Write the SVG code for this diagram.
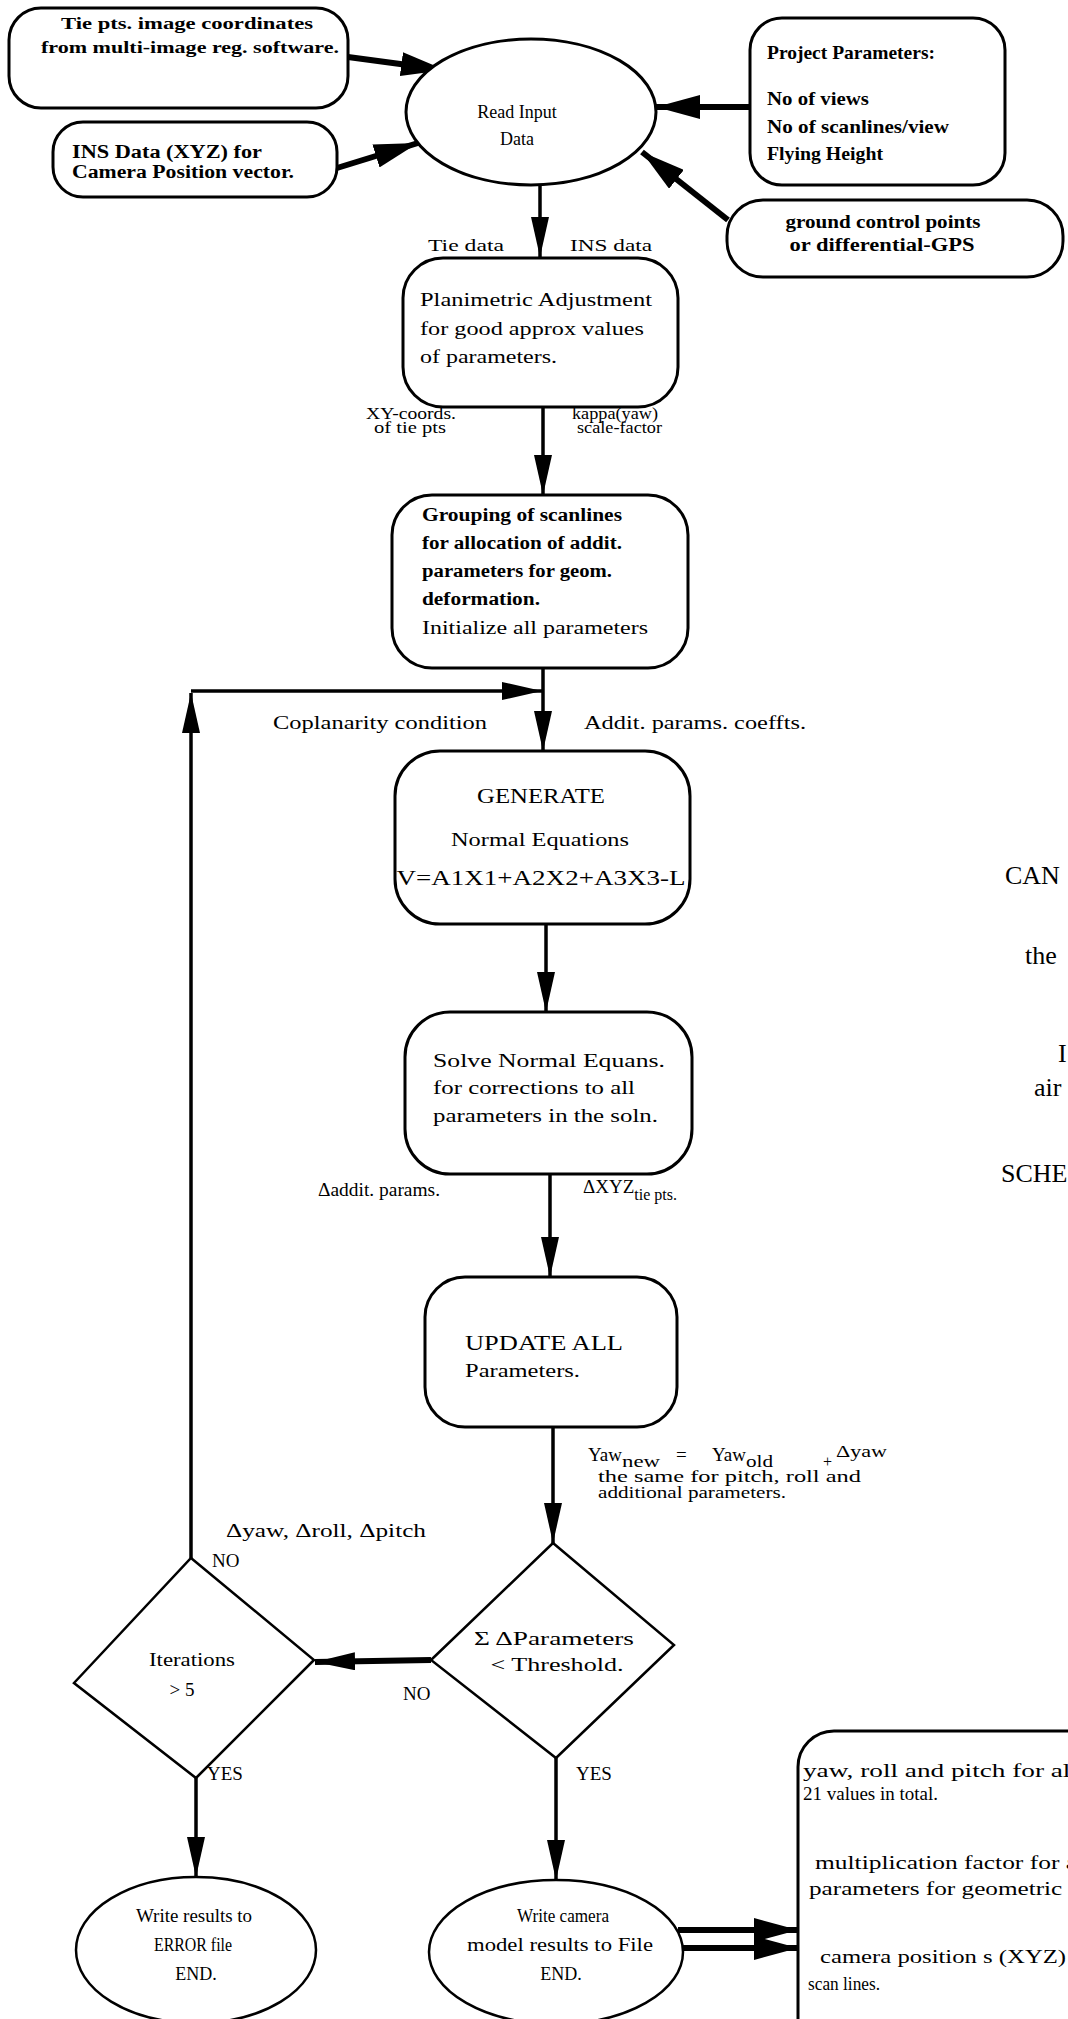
<svg xmlns="http://www.w3.org/2000/svg" width="1068" height="2019" viewBox="0 0 1068 2019">
  <defs>
    <style>
      .box { fill: #fff; stroke: #000; stroke-width: 3; }
      .dia { fill: #fff; stroke: #000; stroke-width: 2.5; }
      .t { font-family: "Liberation Serif", "Times New Roman", serif; font-size: 18px; fill: #000; }
      .b { font-weight: bold; }
      .s { font-size: 16px; }
      .m { font-size: 17px; }
      .l { font-size: 19px; }
      .big { font-size: 26px; }
      .c { text-anchor: middle; }
      .ln { fill: none; stroke: #000; stroke-width: 3.5; }
      .thick { fill: none; stroke: #000; stroke-width: 6; }
    </style>
    <marker id="ah" viewBox="0 0 40 18" refX="40" refY="9" markerWidth="40" markerHeight="18" markerUnits="userSpaceOnUse" orient="auto">
      <path d="M0,0 L40,9 L0,18 z" fill="#000"/>
    </marker>
    <marker id="ahBig" viewBox="0 0 44 24" refX="44" refY="12" markerWidth="44" markerHeight="24" markerUnits="userSpaceOnUse" orient="auto">
      <path d="M0,0 L44,12 L0,24 z" fill="#000"/>
    </marker>
  </defs>

  <rect width="1068" height="2019" fill="#fff"/>

  <!-- connectors -->
  <g id="connectors">
    <line class="thick" x1="348" y1="57" x2="445" y2="70" marker-end="url(#ahBig)"/>
    <line class="thick" x1="337" y1="168" x2="418" y2="143" marker-end="url(#ahBig)"/>
    <line class="thick" x1="750" y1="107" x2="656" y2="107" marker-end="url(#ahBig)"/>
    <line class="thick" x1="728" y1="220" x2="642" y2="152" marker-end="url(#ahBig)"/>
    <line class="ln" x1="540" y1="184" x2="540" y2="257" marker-end="url(#ah)"/>
    <line class="ln" x1="543" y1="407" x2="543" y2="495" marker-end="url(#ah)"/>
    <line class="ln" x1="543" y1="668" x2="543" y2="751" marker-end="url(#ah)"/>
    <line class="ln" x1="191" y1="1558" x2="191" y2="693" marker-end="url(#ah)"/>
    <line class="ln" x1="191" y1="691" x2="542" y2="691" marker-end="url(#ah)"/>
    <line class="ln" x1="546" y1="924" x2="546" y2="1012" marker-end="url(#ah)"/>
    <line class="ln" x1="550" y1="1174" x2="550" y2="1277" marker-end="url(#ah)"/>
    <line class="ln" x1="553" y1="1427" x2="553" y2="1543" marker-end="url(#ah)"/>
    <line class="thick" x1="431" y1="1660" x2="315" y2="1662" marker-end="url(#ah)"/>
    <line class="ln" x1="196" y1="1778" x2="196" y2="1877" marker-end="url(#ah)"/>
    <line class="ln" x1="556" y1="1758" x2="556" y2="1880" marker-end="url(#ah)"/>
    <line class="thick" x1="678" y1="1930" x2="798" y2="1930" marker-end="url(#ahBig)"/>
    <line class="thick" x1="680" y1="1948" x2="798" y2="1948" marker-end="url(#ahBig)"/>
  </g>

  <!-- input sources -->
  <g id="tie-points">
    <rect class="box" x="9" y="8" width="339" height="100" rx="32"/>
    <text class="t b m c" x="187" y="29" textLength="252" lengthAdjust="spacingAndGlyphs">Tie pts. image coordinates</text>
    <text class="t b m c" x="190" y="53" textLength="298" lengthAdjust="spacingAndGlyphs">from multi-image reg. software.</text>
  </g>
  <g id="ins-data">
    <rect class="box" x="53" y="122" width="284" height="75" rx="30"/>
    <text class="t b" x="72" y="158" textLength="190" lengthAdjust="spacingAndGlyphs">INS Data (XYZ) for</text>
    <text class="t b" x="72" y="178" textLength="222" lengthAdjust="spacingAndGlyphs">Camera Position vector.</text>
  </g>
  <g id="read-input">
    <ellipse class="box" cx="531" cy="112" rx="125" ry="73"/>
    <text class="t c" x="517" y="118">Read Input</text>
    <text class="t c" x="517" y="145">Data</text>
  </g>
  <g id="project-parameters">
    <rect class="box" x="750" y="18" width="255" height="167" rx="32"/>
    <text class="t b l" x="767" y="59" textLength="168" lengthAdjust="spacingAndGlyphs">Project Parameters:</text>
    <text class="t b l" x="767" y="105" textLength="102" lengthAdjust="spacingAndGlyphs">No of views</text>
    <text class="t b l" x="767" y="133" textLength="182" lengthAdjust="spacingAndGlyphs">No of scanlines/view</text>
    <text class="t b l" x="767" y="160" textLength="116" lengthAdjust="spacingAndGlyphs">Flying Height</text>
  </g>
  <g id="ground-control">
    <rect class="box" x="727" y="200" width="336" height="77" rx="36"/>
    <text class="t b c" x="883" y="228" textLength="195" lengthAdjust="spacingAndGlyphs">ground control points</text>
    <text class="t b c" x="882" y="251" textLength="185" lengthAdjust="spacingAndGlyphs">or differential-GPS</text>
  </g>

  <!-- main processing chain -->
  <g id="planimetric">
    <text class="t m" x="428" y="251" textLength="76" lengthAdjust="spacingAndGlyphs">Tie data</text>
    <text class="t m" x="570" y="251" textLength="82" lengthAdjust="spacingAndGlyphs">INS data</text>
    <rect class="box" x="403" y="258" width="275" height="149" rx="40"/>
    <text class="t" x="420" y="306" textLength="232" lengthAdjust="spacingAndGlyphs">Planimetric Adjustment</text>
    <text class="t" x="420" y="335" textLength="224" lengthAdjust="spacingAndGlyphs">for good approx values</text>
    <text class="t" x="420" y="363" textLength="137" lengthAdjust="spacingAndGlyphs">of parameters.</text>
    <text class="t s" x="366" y="419" textLength="90" lengthAdjust="spacingAndGlyphs">XY-coords.</text>
    <text class="t s" x="374" y="433" textLength="72" lengthAdjust="spacingAndGlyphs">of tie pts</text>
    <text class="t s" x="572" y="419" textLength="86" lengthAdjust="spacingAndGlyphs">kappa(yaw)</text>
    <text class="t s" x="577" y="433" textLength="85" lengthAdjust="spacingAndGlyphs">scale-factor</text>
  </g>
  <g id="grouping">
    <rect class="box" x="392" y="495" width="296" height="173" rx="40"/>
    <text class="t b" x="422" y="521" textLength="200" lengthAdjust="spacingAndGlyphs">Grouping of scanlines</text>
    <text class="t b" x="422" y="549" textLength="200" lengthAdjust="spacingAndGlyphs">for allocation of addit.</text>
    <text class="t b" x="422" y="577" textLength="190" lengthAdjust="spacingAndGlyphs">parameters for geom.</text>
    <text class="t b" x="422" y="605" textLength="118" lengthAdjust="spacingAndGlyphs">deformation.</text>
    <text class="t" x="422" y="634" textLength="226" lengthAdjust="spacingAndGlyphs">Initialize all parameters</text>
  </g>
  <g id="generate">
    <text class="t" x="273" y="729" textLength="214" lengthAdjust="spacingAndGlyphs">Coplanarity condition</text>
    <text class="t" x="584" y="729" textLength="222" lengthAdjust="spacingAndGlyphs">Addit. params. coeffts.</text>
    <rect class="box" x="395" y="751" width="295" height="173" rx="45"/>
    <text class="t c" x="541" y="803" style="font-size:20px" textLength="128" lengthAdjust="spacingAndGlyphs">GENERATE</text>
    <text class="t c" x="540" y="846" textLength="178" lengthAdjust="spacingAndGlyphs">Normal Equations</text>
    <text class="t c" x="541" y="885" style="font-size:22px" textLength="289" lengthAdjust="spacingAndGlyphs">V=A1X1+A2X2+A3X3-L</text>
  </g>
  <g id="solve">
    <rect class="box" x="405" y="1012" width="287" height="162" rx="45"/>
    <text class="t" x="433" y="1067" textLength="232" lengthAdjust="spacingAndGlyphs">Solve Normal  Equans.</text>
    <text class="t" x="433" y="1094" textLength="202" lengthAdjust="spacingAndGlyphs">for corrections to all</text>
    <text class="t" x="433" y="1122" textLength="225" lengthAdjust="spacingAndGlyphs">parameters in the soln.</text>
    <text class="t" x="318" y="1196" textLength="122" lengthAdjust="spacingAndGlyphs">Δaddit. params.</text>
    <text class="t l" x="583" y="1193">ΔXYZ<tspan class="s" dy="7">tie pts.</tspan></text>
  </g>
  <g id="update">
    <rect class="box" x="425" y="1277" width="252" height="150" rx="40"/>
    <text class="t" x="465" y="1350" style="font-size:20px" textLength="158" lengthAdjust="spacingAndGlyphs">UPDATE  ALL</text>
    <text class="t" x="465" y="1377" textLength="115" lengthAdjust="spacingAndGlyphs">Parameters.</text>
    <!-- update rule: Yaw(new) = Yaw(old) + delta yaw -->
    <text class="t l" x="588" y="1461">Yaw</text>
    <text class="t s" x="622" y="1467" textLength="38" lengthAdjust="spacingAndGlyphs">new</text>
    <text class="t l" x="676" y="1461">=</text>
    <text class="t l" x="712" y="1461">Yaw</text>
    <text class="t s" x="746" y="1467" textLength="27" lengthAdjust="spacingAndGlyphs">old</text>
    <text class="t s" x="823" y="1467">+</text>
    <text class="t m" x="836" y="1457" textLength="51" lengthAdjust="spacingAndGlyphs">Δyaw</text>
    <text class="t m" x="598" y="1482" textLength="263" lengthAdjust="spacingAndGlyphs">the same for pitch, roll and</text>
    <text class="t m" x="598" y="1498" textLength="188" lengthAdjust="spacingAndGlyphs">additional parameters.</text>
  </g>

  <!-- decisions -->
  <g id="threshold">
    <polygon class="dia" points="553,1543 674,1645 556,1758 431,1660"/>
    <text class="t l c" x="554" y="1645" textLength="160" lengthAdjust="spacingAndGlyphs">Σ ΔParameters</text>
    <text class="t l c" x="557" y="1671" textLength="133" lengthAdjust="spacingAndGlyphs">&lt; Threshold.</text>
    <text class="t l" x="403" y="1700">NO</text>
    <text class="t l" x="576" y="1780">YES</text>
  </g>
  <g id="iterations">
    <polygon class="dia" points="191,1558 314,1660 196,1778 74,1683"/>
    <text class="t l c" x="192" y="1666" textLength="86" lengthAdjust="spacingAndGlyphs">Iterations</text>
    <text class="t l c" x="182" y="1696">&gt; 5</text>
    <text class="t" x="226" y="1537" textLength="200" lengthAdjust="spacingAndGlyphs">Δyaw,  Δroll, Δpitch</text>
    <text class="t l" x="212" y="1567">NO</text>
    <text class="t l" x="207" y="1780">YES</text>
  </g>

  <!-- terminals -->
  <g id="error-end">
    <ellipse class="dia" cx="196" cy="1950" rx="120" ry="73"/>
    <text class="t c" x="194" y="1922" textLength="116" lengthAdjust="spacingAndGlyphs">Write results to</text>
    <text class="t c" x="193" y="1951" textLength="78" lengthAdjust="spacingAndGlyphs">ERROR file</text>
    <text class="t c" x="196" y="1980">END.</text>
  </g>
  <g id="write-model">
    <ellipse class="dia" cx="556" cy="1952" rx="127" ry="72"/>
    <text class="t c" x="563" y="1922" textLength="92" lengthAdjust="spacingAndGlyphs">Write camera</text>
    <text class="t c" x="560" y="1951" textLength="186" lengthAdjust="spacingAndGlyphs">model results to File</text>
    <text class="t c" x="561" y="1980">END.</text>
  </g>
  <g id="model-output">
    <rect class="box" x="798" y="1731" width="320" height="330" rx="36"/>
    <text class="t" x="803" y="1777" textLength="275" lengthAdjust="spacingAndGlyphs">yaw,  roll  and pitch for all</text>
    <text class="t" x="803" y="1800" textLength="135" lengthAdjust="spacingAndGlyphs">21 values in total.</text>
    <text class="t" x="815" y="1869" textLength="262" lengthAdjust="spacingAndGlyphs">multiplication factor for a</text>
    <text class="t" x="809" y="1895" textLength="268" lengthAdjust="spacingAndGlyphs">parameters for geometric -</text>
    <text class="t" x="820" y="1963" textLength="246" lengthAdjust="spacingAndGlyphs">camera position s (XYZ)</text>
    <text class="t" x="808" y="1990" textLength="72" lengthAdjust="spacingAndGlyphs">scan lines.</text>
  </g>

  <!-- title block at the right margin -->
  <g id="title">
    <text class="t big" x="1005" y="884">CAN</text>
    <text class="t big" x="1025" y="964">the</text>
    <text class="t big" x="1058" y="1062">I</text>
    <text class="t big" x="1034" y="1096">air</text>
    <text class="t big" x="1001" y="1182">SCHE</text>
  </g>
</svg>
